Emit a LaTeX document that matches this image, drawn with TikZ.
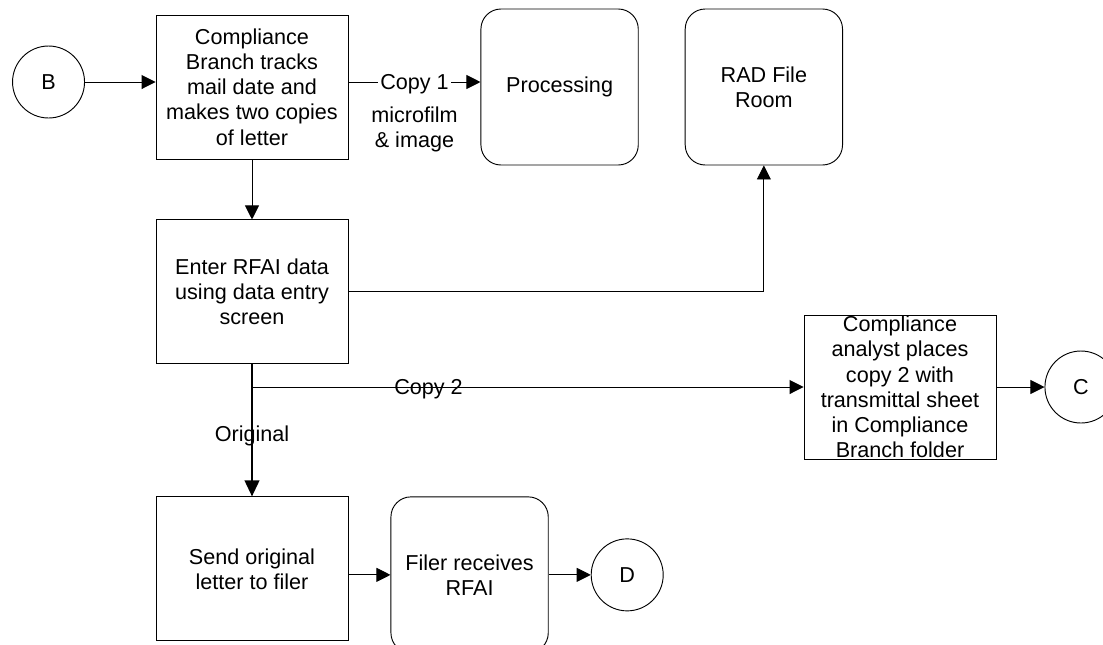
\documentclass[tikz,border=0pt]{standalone}
\usepackage{fontspec}
\setmainfont{Liberation Sans}
\usepackage{tikz}
\usetikzlibrary{shapes.geometric, arrows.meta, positioning, calc}
\tikzstyle{connector} = [circle, draw=black, line width=0.7pt, minimum size=54pt, inner sep=0pt]
\tikzstyle{process} = [rectangle, minimum width=144pt, minimum height=108pt, text centered, align=center, draw=black, line width=0.7pt]
\tikzstyle{terminal} = [rectangle, rounded corners=15pt, minimum width=118pt, minimum height=117pt, text centered, align=center, draw=black, line width=0.7pt]
\tikzstyle{arrow} = [line width=0.7pt, -{Triangle[length=10.5pt, width=10.5pt]}]
\tikzstyle{mainarrow} = [line width=1.5pt, -{Triangle[length=12pt, width=11pt]}]

\begin{document}
\begin{tikzpicture}[font=\fontsize{16.2}{18.9}\selectfont]
    \useasboundingbox (0,0) rectangle (827.25pt,-483pt);

    % Incoming letter
    \node (box1) [process] at (189pt,-65.25pt) {Compliance\\Branch tracks\\mail date and\\makes two copies\\of letter};
    \node (B) [connector] at (36.4pt,-61.5pt) {B};
    \node (proc) [terminal, right=99pt of box1] {Processing};
    \node (rad) [terminal, right=34.5pt of proc] {RAD File\\Room};

    % Data entry
    \node (box2) [process, below=45pt of box1] {Enter RFAI data\\using data entry\\screen};
    \node (box4) [process, inner ysep=0pt] at (675pt,-290.25pt) {Compliance\\analyst places\\copy 2 with\\transmittal sheet\\in Compliance\\Branch folder};
    \node (C) [connector, right=36pt of box4] {C};

    % Filer
    \node (box3) [process, below=99pt of box2] {Send original\\letter to filer};
    \node (filer) [terminal, right=31.5pt of box3, yshift=-4.5pt] {Filer receives\\RFAI};
    \node (D) [connector, right=31.5pt of filer] {D};
    \coordinate (split) at (box2.south |- box4.west);

    % Arrows
    \draw [arrow] (B) -- (B -| box1.west);
    \draw [arrow] (B -| box1.east) -- node[fill=white, inner xsep=2pt, inner ysep=0pt, yshift=-1.5pt] (copy1) {Copy 1} (B -| proc.west);
    \node (film) [below=9pt of copy1, inner sep=0pt, align=center] {microfilm\\\& image};
    \draw [arrow] (box1) -- (box2);
    \draw [arrow] (box2) -| (rad);
    \draw [mainarrow] (box2) -- node[pos=0.545] {Original} (box3);
    \draw [arrow] (split) -- node[pos=0.32, yshift=-1.5pt] {Copy 2} (box4);
    \draw [arrow] (box4) -- (C);
    \draw [arrow] (filer.west -| box3.east) -- (filer);
    \draw [arrow] (filer) -- (D);
\end{tikzpicture}
\end{document}
